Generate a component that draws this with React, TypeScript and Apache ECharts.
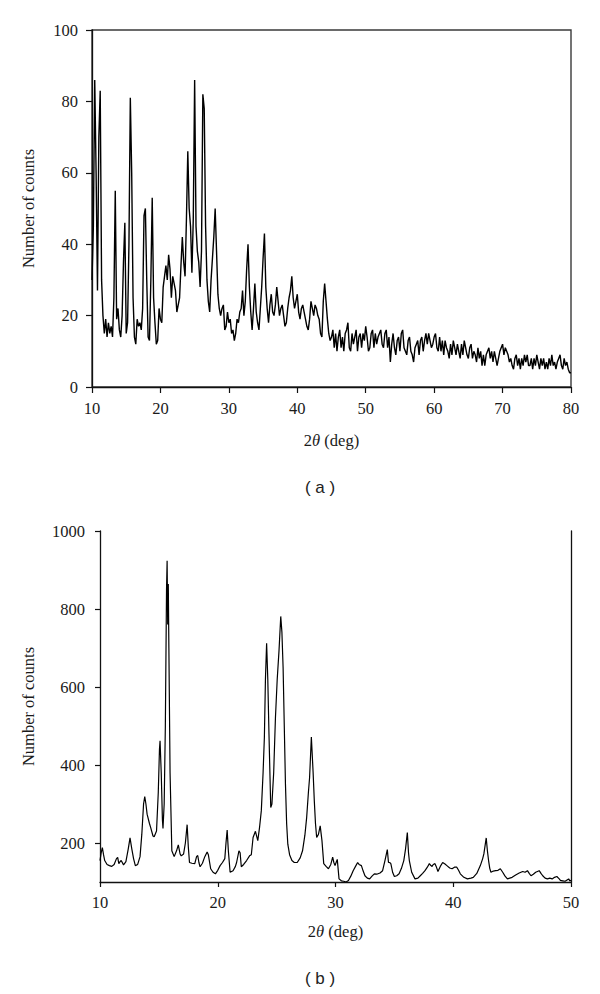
import React, { useEffect, useRef } from "react";
import * as echarts from "echarts";

// ---------- Panel (a): counts sampled every 0.2 deg from 10 to 80 deg ----------
const A_START = 10;
const A_STEP = 0.2;
const countsA = [
  30, 45, 86, 60, 27, 70, 83, 30, 20, 15, // 10.0 - 11.8
  19, 14, 18, 15, 17, 14, 25, 55, 19, 22, // 12.0 - 13.8
  16, 14, 20, 35, 46, 15, 18, 40, 81, 60, // 14.0 - 15.8
  25, 14, 12, 19, 17, 18, 16, 22, 48, 50, // 16.0 - 17.8
  30, 14, 13, 30, 53, 25, 18, 12, 13, 22, // 18.0 - 19.8
  19, 18, 28, 31, 34, 30, 37, 33, 25, 31, // 20.0 - 21.8
  29, 27, 21, 23, 25, 34, 42, 35, 31, 47, // 22.0 - 23.8
  66, 50, 45, 32, 47, 86, 45, 38, 35, 28, // 24.0 - 25.8
  38, 82, 78, 45, 30, 24, 21, 30, 36, 42, // 26.0 - 27.8
  50, 38, 26, 22, 20, 22, 23, 16, 17, 21, // 28.0 - 29.8
  18, 19, 15, 16, 13, 15, 19, 18, 21, 22, // 30.0 - 31.8
  27, 20, 24, 33, 40, 28, 21, 16, 22, 29, // 32.0 - 33.8
  21, 18, 16, 22, 28, 36, 43, 28, 22, 18, // 34.0 - 35.8
  23, 26, 21, 20, 23, 28, 24, 20, 22, 23, // 36.0 - 37.8
  20, 17, 18, 22, 25, 27, 31, 25, 22, 24, // 38.0 - 39.8
  26, 21, 19, 22, 23, 21, 19, 17, 16, 19, // 40.0 - 41.8
  24, 22, 20, 23, 22, 20, 19, 15, 14, 24, // 42.0 - 43.8
  29, 24, 19, 15, 13, 14, 16, 11, 15, 10, // 44.0 - 45.8
  14, 16, 11, 14, 10, 15, 16, 18, 11, 10, // 46.0 - 47.8
  15, 12, 14, 16, 10, 14, 15, 11, 15, 13, // 48.0 - 49.8
  17, 14, 10, 11, 15, 16, 11, 15, 12, 14, // 50.0 - 51.8
  15, 16, 12, 11, 15, 16, 11, 14, 7, 12,  // 52.0 - 53.8
  15, 11, 9, 13, 14, 10, 15, 16, 11, 10,  // 54.0 - 55.8
  9, 13, 14, 10, 9, 7, 11, 12, 13, 9,     // 56.0 - 57.8
  13, 14, 10, 13, 15, 12, 15, 13, 11, 12, // 58.0 - 59.8
  14, 15, 11, 10, 14, 10, 13, 9, 13, 11,  // 60.0 - 61.8
  10, 8, 12, 9, 13, 11, 9, 12, 10, 8,     // 62.0 - 63.8
  12, 9, 13, 11, 9, 8, 11, 12, 8, 10,     // 64.0 - 65.8
  9, 7, 11, 8, 10, 6, 9, 6, 9, 10,        // 66.0 - 67.8
  11, 8, 10, 7, 10, 8, 6, 8, 10, 11,      // 68.0 - 69.8
  12, 9, 11, 10, 9, 7, 8, 6, 5, 8,        // 70.0 - 71.8
  9, 6, 8, 5, 8, 6, 9, 7, 9, 6,           // 72.0 - 73.8
  6, 8, 5, 8, 6, 9, 7, 5, 8, 6,           // 74.0 - 75.8
  8, 5, 7, 5, 8, 6, 9, 6, 7, 5,           // 76.0 - 77.8
  7, 8, 9, 6, 5, 8, 6, 7, 5, 4,           // 78.0 - 79.8
  4,                                      // 80.0
];

// ---------- Panel (b): angle / count pairs ----------
const anglesB = [
  10.0, 10.1, 10.2, 10.3, 10.4, 10.6, 10.8, 11.0, 11.2, 11.4, 11.5, 11.6, 11.7, 11.8, 12.0, 12.2, 12.4, 12.55, 12.7, 12.85,
  13.0, 13.2, 13.4, 13.55, 13.7, 13.8, 13.9, 14.0, 14.2, 14.3, 14.5, 14.6, 14.8, 14.95, 15.05, 15.1, 15.2, 15.3, 15.35, 15.45,
  15.55, 15.65, 15.7, 15.75, 15.8, 15.85, 15.95, 16.1, 16.3, 16.5, 16.65, 16.8, 16.9, 17.1, 17.25, 17.4, 17.5, 17.6, 17.8, 18.05,
  18.2, 18.3, 18.4, 18.5, 18.7, 18.9, 19.1, 19.2, 19.4, 19.6, 19.8, 20.0, 20.2, 20.4, 20.6, 20.7, 20.8, 20.9, 21.05, 21.3,
  21.5, 21.6, 21.8, 21.9, 22.0, 22.2, 22.45, 22.7, 22.85, 23.0, 23.2, 23.4, 23.55, 23.7, 23.85, 23.96, 24.05, 24.15, 24.25, 24.35,
  24.5, 24.6, 24.75, 24.9, 25.05, 25.2, 25.35, 25.45, 25.55, 25.65, 25.75, 25.85, 25.95, 26.1, 26.3, 26.5, 26.75, 27.0, 27.2, 27.4,
  27.55, 27.7, 27.8, 27.95, 28.1, 28.2, 28.3, 28.4, 28.55, 28.7, 28.85, 29.0, 29.2, 29.4, 29.6, 29.76, 29.86, 29.96, 30.05, 30.15,
  30.3, 30.5, 30.7, 30.9, 31.1, 31.3, 31.5, 31.7, 31.88, 32.0, 32.2, 32.35, 32.5, 32.7, 32.9, 33.1, 33.3, 33.5, 33.78, 34.0,
  34.2, 34.4, 34.5, 34.6, 34.7, 34.85, 35.0, 35.2, 35.4, 35.6, 35.8, 35.95, 36.1, 36.2, 36.27, 36.47, 36.75, 37.0, 37.2, 37.4,
  37.6, 37.8, 37.97, 38.1, 38.2, 38.3, 38.45, 38.55, 38.7, 38.9, 39.1, 39.3, 39.46, 39.7, 39.9, 40.1, 40.3, 40.45, 40.6, 40.9,
  41.2, 41.5, 41.7, 42.0, 42.3, 42.5, 42.6, 42.8, 42.9, 43.0, 43.1, 43.2, 43.4, 43.6, 43.8, 44.0, 44.2, 44.4, 44.6, 44.8,
  45.0, 45.3, 45.6, 45.9, 46.1, 46.3, 46.45, 46.6, 46.8, 47.0, 47.3, 47.45, 47.6, 47.8, 48.0, 48.2, 48.4, 48.6, 48.8, 49.0,
  49.1, 49.3, 49.5, 49.7, 49.8, 49.9, 50.0,
];
const countsB = [
  155, 175, 188, 170, 155, 145, 142, 140, 145, 160, 163, 147, 152, 155, 144, 152, 185, 213, 185, 160,
  142, 145, 165, 222, 300, 319, 300, 274, 250, 240, 218, 216, 231, 330, 440, 462, 380, 260, 237, 300,
  500, 850, 924, 760, 864, 700, 380, 180, 165, 180, 195, 172, 167, 172, 200, 247, 190, 150, 148, 147,
  165, 168, 150, 139, 148, 165, 177, 170, 134, 125, 121, 130, 142, 150, 160, 200, 233, 180, 125, 129,
  140, 150, 180, 175, 139, 145, 155, 167, 170, 214, 230, 206, 240, 283, 380, 471, 620, 712, 620, 480,
  291, 300, 380, 522, 620, 692, 781, 740, 650, 500, 351, 250, 197, 170, 155, 150, 150, 162, 180, 220,
  265, 330, 368, 472, 380, 308, 250, 214, 222, 244, 206, 147, 140, 134, 145, 164, 150, 142, 150, 158,
  108, 103, 102, 100, 104, 115, 129, 140, 150, 145, 142, 128, 116, 110, 108, 115, 121, 120, 123, 129,
  155, 183, 150, 150, 147, 125, 114, 116, 121, 135, 155, 185, 227, 175, 155, 125, 108, 110, 116, 122,
  129, 138, 147, 142, 140, 145, 147, 140, 127, 140, 150, 146, 142, 136, 134, 138, 138, 130, 121, 112,
  108, 110, 112, 122, 142, 160, 172, 213, 180, 155, 135, 125, 128, 129, 130, 134, 125, 115, 108, 110,
  112, 118, 123, 127, 125, 129, 122, 116, 120, 125, 129, 122, 116, 110, 108, 110, 108, 112, 114, 108,
  104, 103, 102, 106, 108, 103, 104,
];

const yLabelsB = [200, 400, 600, 800, 1000];
const captions = ["( a )", "( b )"];
const yName = "Number of counts";
const xName = "2{i|θ} (deg)";

export default function App() {
  const ref = useRef<HTMLDivElement>(null);

  useEffect(() => {
    if (!ref.current) return;
    const chart = echarts.init(ref.current, null, { renderer: "svg" });
    const dataA = countsA.map((v, i) => [Number((A_START + i * A_STEP).toFixed(1)), v]);
    const dataB = anglesB.map((a, i) => [a, countsB[i]]);

    const serif = "'Liberation Serif', 'Times New Roman', serif";
    const sans = "'Liberation Sans', Arial, sans-serif";
    const axisLine = { show: true, lineStyle: { color: "#111", width: 1.3 } };
    const plain = (v: number) => String(v);
    const labelStyle = { fontFamily: serif, fontSize: 16.5, color: "#1a1a1a", formatter: plain };
    const nameStyle = {
      fontFamily: serif,
      fontSize: 16.5,
      color: "#1a1a1a",
      rich: { i: { fontFamily: serif, fontSize: 16.5, fontStyle: "italic", color: "#1a1a1a" } },
    };
    const yNameStyle = { fontFamily: serif, fontSize: 16.5, color: "#1a1a1a" };

    chart.setOption({
      animation: false,
      backgroundColor: "#ffffff",
      grid: [
        { left: 92, top: 30, width: 479, height: 357, show: true, borderColor: "#3a3a3a", borderWidth: 1.4, backgroundColor: "transparent" },
        { left: 100, top: 531, width: 471, height: 351 },
      ],
      xAxis: [
        {
          gridIndex: 0, type: "value", min: 10, max: 80, interval: 10,
          name: xName, nameLocation: "middle", nameGap: 45, nameTextStyle: nameStyle,
          axisLine, axisTick: { show: true, inside: false, length: 6, lineStyle: { color: "#111", width: 1.2 } },
          axisLabel: { ...labelStyle, margin: 13 }, splitLine: { show: false },
        },
        {
          gridIndex: 1, type: "value", min: 10, max: 50, interval: 10,
          name: xName, nameLocation: "middle", nameGap: 41, nameTextStyle: nameStyle,
          axisLine, axisTick: { show: true, inside: false, length: 5, lineStyle: { color: "#111", width: 1.2 } },
          axisLabel: { ...labelStyle, margin: 12 }, splitLine: { show: false },
        },
      ],
      yAxis: [
        {
          gridIndex: 0, type: "value", min: 0, max: 100, interval: 20,
          name: yName, nameLocation: "middle", nameGap: 55, nameTextStyle: yNameStyle,
          axisLine, axisTick: { show: true, inside: false, length: 6, lineStyle: { color: "#111", width: 1.2 } },
          axisLabel: { ...labelStyle, margin: 14 }, splitLine: { show: false },
        },
        {
          gridIndex: 1, type: "value", min: 100, max: 1000,
          name: yName, nameLocation: "middle", nameGap: 63, nameTextStyle: yNameStyle,
          axisLine, axisTick: { show: true, inside: false, length: 5, customValues: yLabelsB, lineStyle: { color: "#111", width: 1.2 } },
          axisLabel: { ...labelStyle, margin: 15, customValues: yLabelsB }, splitLine: { show: false },
        },
        {
          gridIndex: 1, type: "value", min: 100, max: 1000, position: "right",
          axisLine, axisTick: { show: false }, axisLabel: { show: false }, splitLine: { show: false },
        },
      ],
      series: [
        {
          type: "line", xAxisIndex: 0, yAxisIndex: 0, data: dataA, showSymbol: false, symbol: "none",
          lineStyle: { color: "#000", width: 1.4 }, silent: true,
        },
        {
          type: "line", xAxisIndex: 1, yAxisIndex: 1, data: dataB, showSymbol: false, symbol: "none",
          lineStyle: { color: "#000", width: 1.2 }, silent: true,
        },
      ],
      graphic: [
        { type: "text", x: 320, y: 487, style: { text: captions[0], font: `17px ${sans}`, fill: "#222", textAlign: "center", textVerticalAlign: "middle" } },
        { type: "text", x: 320, y: 978, style: { text: captions[1], font: `17px ${sans}`, fill: "#222", textAlign: "center", textVerticalAlign: "middle" } },
      ],
    });
    return () => chart.dispose();
  }, []);

  return (
    <div
      ref={ref}
      style={{ position: "absolute", left: 0, top: 0, width: 600, height: 994, background: "#fff" }}
    />
  );
}
